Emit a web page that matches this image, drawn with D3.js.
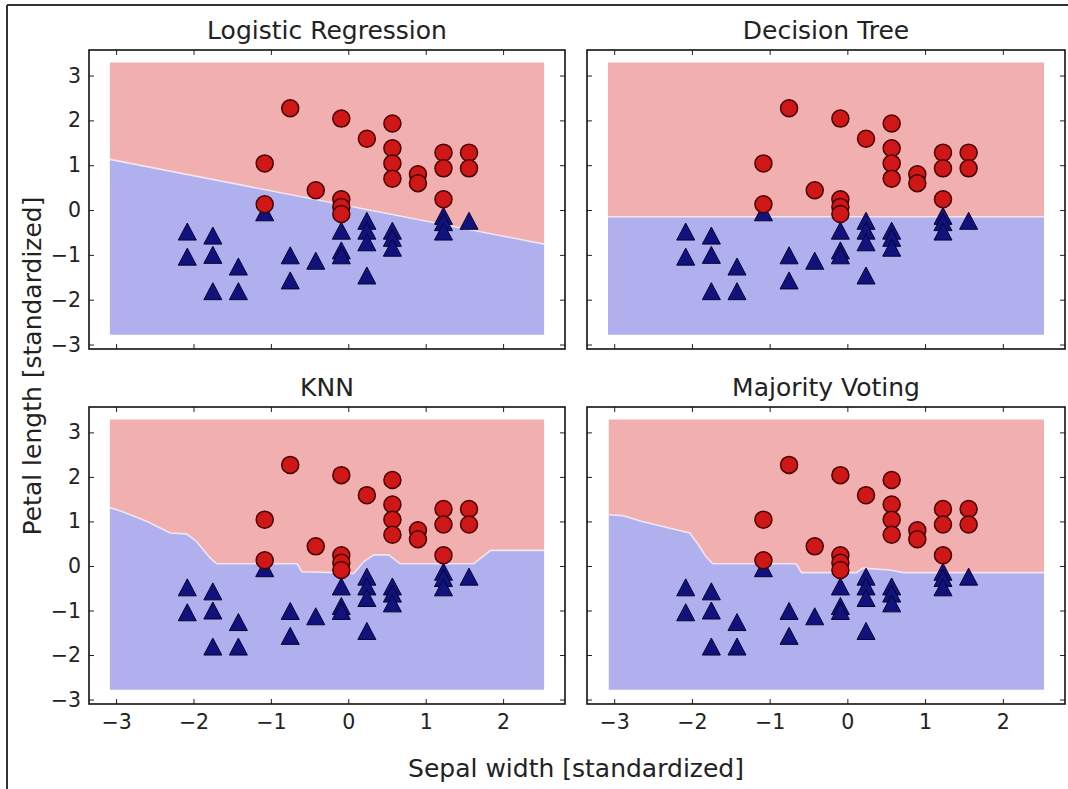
<!DOCTYPE html>
<html>
<head>
<meta charset="utf-8">
<script src="https://cdn.jsdelivr.net/npm/d3@7"></script>
<style>
  html, body { margin: 0; padding: 0; background: #fff; }
  svg { display: block; font-family: "DejaVu Sans", sans-serif; }
</style>
</head>
<body>
<svg id="chart" width="1068" height="789"></svg>
<script>
// ---------- data ----------
const titles = ["Logistic Regression", "Decision Tree", "KNN", "Majority Voting"];
const xTicks = [-3, -2, -1, 0, 1, 2];
const yTicks = [-3, -2, -1, 0, 1, 2, 3];
const xLabel = "Sepal width [standardized]";
const yLabel = "Petal length [standardized]";

// class 1 (red circles)
const circleX = [-0.75, -0.09, 0.57, 0.24, 0.57, 0.57, 0.57, -1.08, 1.23, 1.23, 1.56, 1.56, 0.90, 0.90, -0.42, -0.09, -0.09, -0.09, -1.08, 1.23];
const circleY = [2.27, 2.04, 1.93, 1.59, 1.38, 1.04, 0.70, 1.04, 1.28, 0.93, 1.28, 0.93, 0.80, 0.60, 0.44, 0.24, 0.07, -0.09, 0.13, 0.24];
// class 0 (blue triangles)
const triX = [-2.08, -2.08, -1.75, -1.75, -1.75, -1.42, -1.42, -1.08, -0.75, -0.75, -0.42, -0.09, -0.09, -0.09, 0.24, 0.24, 0.24, 0.24, 0.57, 0.57, 0.57, 1.23, 1.23, 1.23, 1.56];
const triY = [-0.48, -1.04, -0.57, -1.00, -1.81, -1.26, -1.81, -0.05, -1.01, -1.57, -1.13, -0.46, -0.90, -1.01, -0.24, -0.46, -0.72, -1.46, -0.46, -0.62, -0.84, -0.13, -0.27, -0.48, -0.24];

// decision grid extent
const meshX = [-3.08, 2.53];
const meshY = [-2.78, 3.29];

// decision boundaries (x, y)
const lrBoundX = [-3.08, 2.53];
const lrBoundY = [1.13, -0.76];
const dtBoundX = [-3.08, 2.53];
const dtBoundY = [-0.15, -0.15];
const knnBoundX = [-3.08, -2.93, -2.60, -2.30, -2.09, -1.96, -1.87, -1.78, -1.70, -0.66, -0.60, -0.15, 0.07, 0.20, 0.33, 0.52, 0.67, 1.62, 1.84, 2.53];
const knnBoundY = [1.31, 1.23, 1.00, 0.74, 0.72, 0.55, 0.36, 0.17, 0.05, 0.05, -0.13, -0.15, -0.17, 0.10, 0.25, 0.25, 0.05, 0.05, 0.35, 0.35];
const mvBoundX = [-3.07, -2.89, -2.64, -2.03, -1.93, -1.82, -1.73, -0.66, -0.59, 0.12, 0.20, 0.55, 0.72, 2.53];
const mvBoundY = [1.15, 1.13, 1.00, 0.74, 0.51, 0.21, 0.05, 0.05, -0.15, -0.15, -0.05, -0.09, -0.15, -0.15];

const boundsX = [lrBoundX, dtBoundX, knnBoundX, mvBoundX];
const boundsY = [lrBoundY, dtBoundY, knnBoundY, mvBoundY];

// ---------- layout ----------
const svg = d3.select("#chart");
const colLeft = [89, 587];
const colRight = [565, 1065];
const rowTop = [50, 407];
const rowBottom = [349, 704];
const xDomain = [-3.35, 2.80];
const yDomain = [-3.1, 3.57];

// figure border (top & left visible)
svg.append("line").attr("x1", 7).attr("y1", 5).attr("x2", 1068).attr("y2", 5)
  .attr("stroke", "#333").attr("stroke-width", 2);
svg.append("line").attr("x1", 7).attr("y1", 5).attr("x2", 7).attr("y2", 789)
  .attr("stroke", "#333").attr("stroke-width", 2);

titles.forEach((title, i) => {
  const col = i % 2, row = Math.floor(i / 2);
  const x = d3.scaleLinear().domain(xDomain).range([colLeft[col], colRight[col]]);
  const y = d3.scaleLinear().domain(yDomain).range([rowBottom[row], rowTop[row]]);
  const g = svg.append("g");

  const bx = boundsX[i], by = boundsY[i];
  const pts = bx.map((v, k) => [v, by[k]]);

  // red region (above boundary)
  g.append("path").datum(pts)
    .attr("d", d3.area().x(d => x(d[0])).y0(d => y(d[1])).y1(() => y(meshY[1])))
    .attr("fill", "#f2afaf");
  // blue region (below boundary)
  g.append("path").datum(pts)
    .attr("d", d3.area().x(d => x(d[0])).y0(d => y(d[1])).y1(() => y(meshY[0])))
    .attr("fill", "#b0b0ee");
  // seam
  g.append("path").datum(pts)
    .attr("d", d3.line().x(d => x(d[0])).y(d => y(d[1])))
    .attr("fill", "none").attr("stroke", "#efe6ee").attr("stroke-width", 1.6);

  // triangles
  const tri = "M0,-8.5L9,8.5L-9,8.5Z";
  g.selectAll(".tri").data(triX.map((v, k) => [v, triY[k]])).enter().append("path")
    .attr("d", tri)
    .attr("transform", d => `translate(${x(d[0])},${y(d[1])})`)
    .attr("fill", "#12127e").attr("stroke", "#05052e").attr("stroke-width", 1);
  // circles
  g.selectAll(".cir").data(circleX.map((v, k) => [v, circleY[k]])).enter().append("circle")
    .attr("cx", d => x(d[0])).attr("cy", d => y(d[1])).attr("r", 8.5)
    .attr("fill", "#cf1717").attr("stroke", "#460000").attr("stroke-width", 1.5);

  // axes (inward ticks on all sides)
  const styleAxis = sel => {
    sel.select(".domain").remove();
    sel.selectAll(".tick line").attr("stroke", "#222").attr("stroke-width", 1);
    sel.selectAll(".tick text").attr("fill", "#222").style("font-size", "20.5px")
      .style("font-family", "DejaVu Sans, sans-serif");
  };
  const left = d3.axisLeft(y).tickValues(yTicks).tickSize(-5).tickPadding(8)
    .tickFormat(col === 0 ? d3.format("") : () => "");
  g.append("g").attr("transform", `translate(${colLeft[col]},0)`).call(left).call(styleAxis);
  const right = d3.axisRight(y).tickValues(yTicks).tickSize(-5).tickFormat(() => "");
  g.append("g").attr("transform", `translate(${colRight[col]},0)`).call(right).call(styleAxis);
  const top = d3.axisTop(x).tickValues(xTicks).tickSize(-5).tickFormat(() => "");
  g.append("g").attr("transform", `translate(0,${rowTop[row]})`).call(top).call(styleAxis);
  const bottom = d3.axisBottom(x).tickValues(xTicks).tickSize(-5).tickPadding(10)
    .tickFormat(row === 1 ? d3.format("") : () => "");
  g.append("g").attr("transform", `translate(0,${rowBottom[row]})`).call(bottom).call(styleAxis);

  // frame
  g.append("rect").attr("x", colLeft[col]).attr("y", rowTop[row])
    .attr("width", colRight[col] - colLeft[col]).attr("height", rowBottom[row] - rowTop[row])
    .attr("fill", "none").attr("stroke", "#111").attr("stroke-width", 1.6);

  // title
  g.append("text").attr("x", (colLeft[col] + colRight[col]) / 2).attr("y", rowTop[row] - 11)
    .attr("text-anchor", "middle").attr("fill", "#222").style("font-size", "25px")
    .text(title);
});

svg.append("text").attr("x", 576).attr("y", 777).attr("text-anchor", "middle")
  .attr("fill", "#222").style("font-size", "25px").text(xLabel);
svg.append("text").attr("transform", "translate(41,366) rotate(-90)")
  .attr("text-anchor", "middle").attr("fill", "#222").style("font-size", "25px").text(yLabel);
</script>
</body>
</html>
